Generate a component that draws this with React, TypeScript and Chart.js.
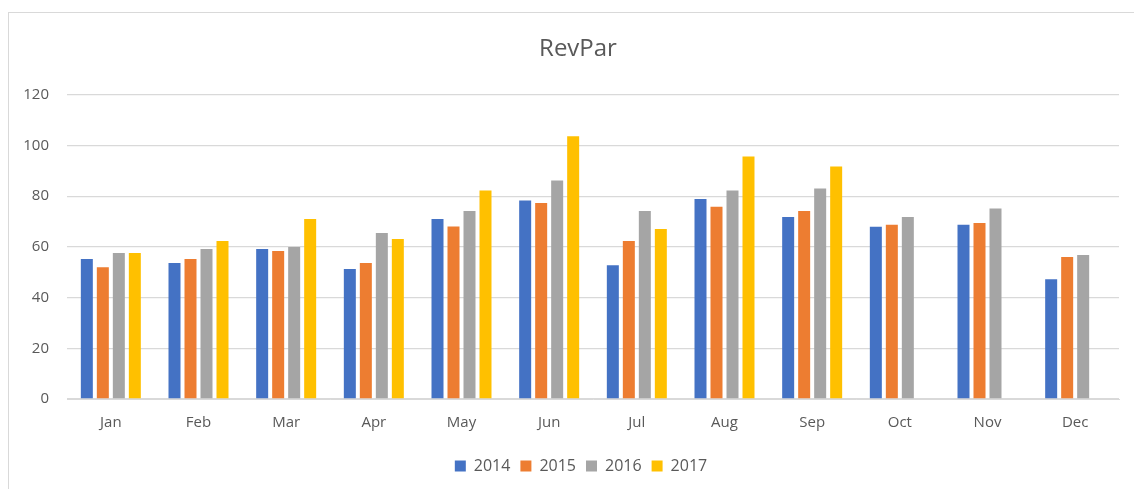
import React, { useEffect, useRef } from "react";
import { Chart, registerables } from "chart.js";

Chart.register(...registerables);

const months = ["Jan", "Feb", "Mar", "Apr", "May", "Jun", "Jul", "Aug", "Sep", "Oct", "Nov", "Dec"];
const years = ["2014", "2015", "2016", "2017"];
const rev2014 = [55.2, 53.6, 59.2, 51.3, 71.0, 78.3, 52.8, 78.9, 71.8, 67.9, 68.7, 47.2];
const rev2015 = [52.0, 55.2, 58.4, 53.6, 68.0, 77.3, 62.3, 75.8, 74.2, 68.7, 69.4, 56.0];
const rev2016 = [57.6, 59.2, 60.0, 65.5, 74.2, 86.2, 74.2, 82.2, 83.0, 71.8, 75.1, 56.8];
const rev2017 = [57.6, 62.3, 71.0, 63.1, 82.2, 103.6, 67.1, 95.7, 91.7, null, null, null];
const colors = ["#4472C4", "#ED7D31", "#A5A5A5", "#FFC000"];
const yTicks = [0, 20, 40, 60, 80, 100, 120];

const FONT = "'Open Sans', 'Liberation Sans', sans-serif";
const TEXT = "#595959";
const GRID = "#d9d9d9";

const shiftPlugin = {
  id: "shiftTitleLegend",
  afterLayout(chart: any) {
    if (chart.titleBlock) {
      chart.titleBlock.left += 14;
      chart.titleBlock.right += 14;
    }
    if (chart.legend) {
      chart.legend.left += 17;
      chart.legend.right += 17;
    }
  },
};

export default function App() {
  const ref = useRef<HTMLCanvasElement | null>(null);

  useEffect(() => {
    if (!ref.current) return;
    const series = [rev2014, rev2015, rev2016, rev2017];
    const chart = new Chart(ref.current, {
      type: "bar",
      data: {
        labels: months,
        datasets: years.map((y, i) => ({
          label: y,
          data: series[i],
          backgroundColor: colors[i],
          borderWidth: 0,
          categoryPercentage: 0.73,
          barPercentage: 0.75,
        })),
      },
      options: {
        responsive: false,
        animation: false,
        layout: { padding: { left: 0, right: 28, top: 0, bottom: 5 } },
        plugins: {
          title: {
            display: true,
            text: "RevPar",
            color: TEXT,
            font: { family: FONT, size: 24, weight: "normal" },
            padding: { top: 22, bottom: 31 },
          },
          legend: {
            position: "bottom",
            labels: {
              color: TEXT,
              font: { family: FONT, size: 16 },
              boxWidth: 11,
              boxHeight: 11,
              padding: 10,
            },
          },
          tooltip: { enabled: false },
        },
        scales: {
          x: {
            grid: { display: false, drawTicks: false },
            border: { display: true, color: GRID, width: 1 },
            ticks: { color: TEXT, font: { family: FONT, size: 15 }, padding: 15 },
            afterFit: (scale: any) => {
              scale.height = 49;
            },
          },
          y: {
            min: 0,
            max: 120,
            afterBuildTicks: (scale: any) => {
              scale.ticks = yTicks.map((v) => ({ value: v }));
            },
            grid: { color: GRID, lineWidth: 1.3, drawTicks: false },
            border: { display: false },
            ticks: { color: TEXT, font: { family: FONT, size: 15 }, padding: 18 },
            afterFit: (scale: any) => {
              scale.width = 58;
            },
          },
        },
      },
      plugins: [shiftPlugin],
    } as any);
    return () => chart.destroy();
  }, []);

  return (
    <div
      style={{
        position: "fixed",
        left: 8,
        top: 12,
        width: 1126,
        height: 477,
        overflow: "hidden",
        background: "#fff",
      }}
    >
      <div
        style={{
          width: 1140,
          height: 500,
          border: `1px solid ${GRID}`,
          boxSizing: "border-box",
          background: "#fff",
        }}
      >
        <canvas ref={ref} width={1138} height={476} style={{ display: "block", width: 1138, height: 476 }} />
      </div>
    </div>
  );
}
